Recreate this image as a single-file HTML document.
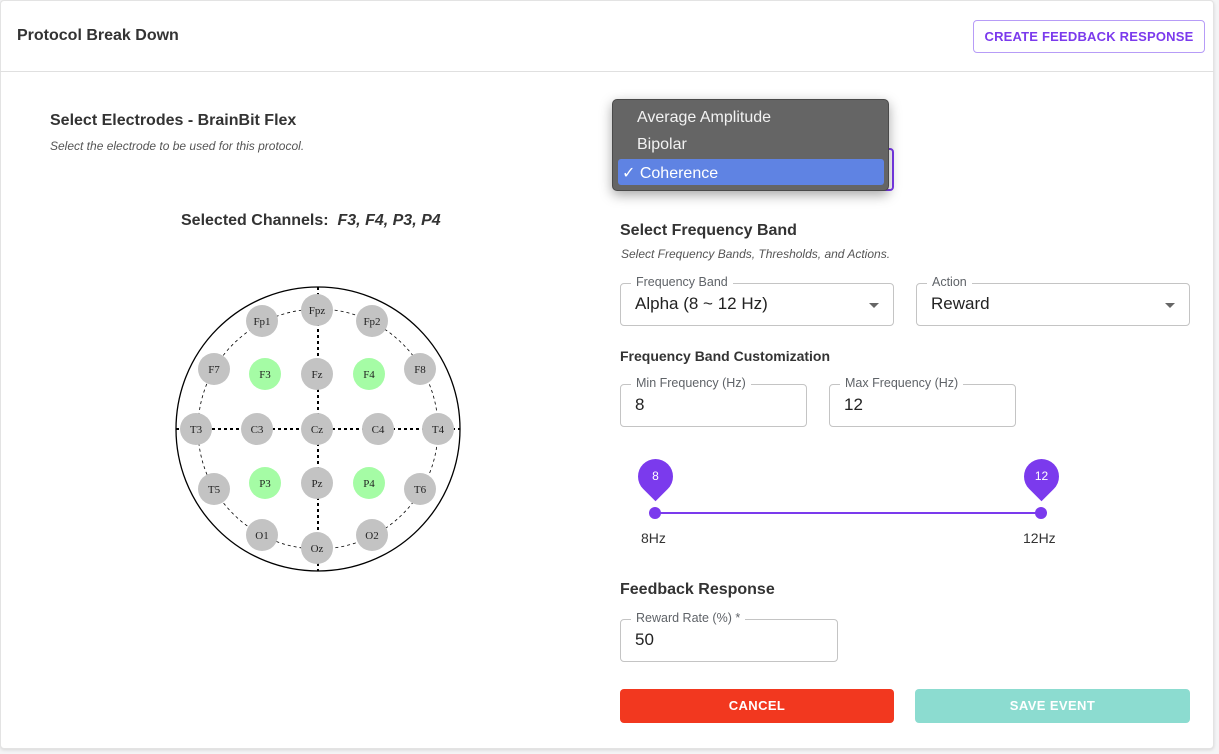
<!DOCTYPE html>
<html><head><meta charset="utf-8">
<style>
*{box-sizing:border-box}
body{margin:0;width:1219px;height:754px;background:#f4f4f5;font-family:"Liberation Sans",sans-serif;color:#2a2a2a;position:relative;overflow:hidden}
.abs{position:absolute}
.card{left:0;top:0;width:1214px;height:749px;background:#fff;border:1px solid #e3e3e3;border-radius:4px;box-shadow:0 1px 3px rgba(0,0,0,.12)}
.field{position:absolute;border:1px solid #c4c4c4;border-radius:4px;background:#fff}
.field .lab{position:absolute;top:-9px;left:10px;background:#fff;padding:0 5px;font-size:12.5px;color:#5f6368}
.field .val{position:absolute;left:14px;top:10px;font-size:17px;color:#222}
.arrow{position:absolute;right:14px;top:19px;width:0;height:0;border-left:5px solid transparent;border-right:5px solid transparent;border-top:5px solid #666}
.h{font-size:16px;font-weight:bold;color:#333}
.sub{font-size:12px;font-style:italic;color:#555}
.btn{position:absolute;border-radius:4px;font-size:13px;font-weight:bold;letter-spacing:.4px;text-align:center;color:#fff}
</style></head><body>
<div class="abs card"></div>
<div class="abs" style="left:17px;top:27px;font-size:16px;font-weight:bold;color:#333">Protocol Break Down</div>
<div class="abs" style="left:973px;top:20px;width:232px;height:33px;border:1px solid #b79cf7;border-radius:4px;color:#7b3aed;font-size:13px;font-weight:bold;letter-spacing:.2px;text-align:center;line-height:31px">CREATE FEEDBACK RESPONSE</div>
<div class="abs" style="left:0;top:71px;width:1214px;height:1px;background:#e0e0e0"></div>

<div class="abs h" style="left:50px;top:112px">Select Electrodes - BrainBit Flex</div>
<div class="abs sub" style="left:50px;top:139px">Select the electrode to be used for this protocol.</div>
<div class="abs" style="left:181px;top:212px;font-size:16px;font-weight:bold;color:#333">Selected Channels:&nbsp; <i>F3, F4, P3, P4</i></div>

<svg class="abs" style="left:0;top:0" width="620" height="754" id="head">
<circle cx="318" cy="429" r="142" fill="none" stroke="#000" stroke-width="1.3"/>
<circle cx="318" cy="429" r="120" fill="none" stroke="#000" stroke-width="0.8" stroke-dasharray="3,3"/>
<line x1="318" y1="287" x2="318" y2="571" stroke="#000" stroke-width="2" stroke-dasharray="3,3"/>
<line x1="176" y1="429" x2="460" y2="429" stroke="#000" stroke-width="2" stroke-dasharray="3,3"/>
<g id="elec"></g>
</svg>

<div class="abs" style="left:621px;top:148px;width:273px;height:43px;border:2px solid #7b3aed;border-radius:4px"></div>
<div class="abs" style="left:612px;top:99px;width:277px;height:92px;background:#656565;border:1px solid #4a4a4a;border-radius:5px;box-shadow:0 4px 12px rgba(0,0,0,.35);font-size:16px;color:#f2f2f2">
<div class="abs" style="left:24px;top:9px">Average Amplitude</div>
<div class="abs" style="left:24px;top:36px">Bipolar</div>
<div class="abs" style="left:5px;top:59px;width:266px;height:26px;background:#5f83e3;border-radius:3px;color:#fff"><span style="position:absolute;left:4px;top:4px">✓ Coherence</span></div>
</div>

<div class="abs h" style="left:620px;top:222px">Select Frequency Band</div>
<div class="abs sub" style="left:621px;top:247px">Select Frequency Bands, Thresholds, and Actions.</div>
<div class="field" style="left:620px;top:283px;width:274px;height:43px"><span class="lab">Frequency Band</span><span class="val">Alpha (8 ~ 12 Hz)</span><span class="arrow"></span></div>
<div class="field" style="left:916px;top:283px;width:274px;height:43px"><span class="lab">Action</span><span class="val">Reward</span><span class="arrow"></span></div>
<div class="abs" style="left:620px;top:348px;font-size:14px;font-weight:bold;color:#333">Frequency Band Customization</div>
<div class="field" style="left:620px;top:384px;width:187px;height:43px"><span class="lab">Min Frequency (Hz)</span><span class="val">8</span></div>
<div class="field" style="left:829px;top:384px;width:187px;height:43px"><span class="lab">Max Frequency (Hz)</span><span class="val">12</span></div>

<div class="abs" style="left:655px;top:512px;width:387px;height:2px;background:#7b3aed"></div>
<div class="abs" style="left:649px;top:507px;width:12px;height:12px;border-radius:50%;background:#7b3aed"></div>
<div class="abs" style="left:1035px;top:507px;width:12px;height:12px;border-radius:50%;background:#7b3aed"></div>
<div class="abs" style="left:638px;top:459px;width:35px;height:35px;border-radius:50% 50% 50% 0;transform:rotate(-45deg);background:#7b3aed"></div>
<div class="abs" style="left:638px;top:469px;width:35px;text-align:center;color:#fff;font-size:12px">8</div>
<div class="abs" style="left:1024px;top:459px;width:35px;height:35px;border-radius:50% 50% 50% 0;transform:rotate(-45deg);background:#7b3aed"></div>
<div class="abs" style="left:1024px;top:469px;width:35px;text-align:center;color:#fff;font-size:12px">12</div>
<div class="abs" style="left:641px;top:530px;font-size:14px;color:#333">8Hz</div>
<div class="abs" style="left:1023px;top:530px;font-size:14px;color:#333">12Hz</div>

<div class="abs h" style="left:620px;top:581px">Feedback Response</div>
<div class="field" style="left:620px;top:619px;width:218px;height:43px"><span class="lab">Reward Rate (%) *</span><span class="val">50</span></div>
<div class="btn" style="left:620px;top:689px;width:274px;height:34px;line-height:34px;background:#f2381f">CANCEL</div>
<div class="btn" style="left:915px;top:689px;width:275px;height:34px;line-height:34px;background:#8cdcd0">SAVE EVENT</div>

<script>
const names=["Fpz","Fp1","Fp2","F7","F3","Fz","F4","F8","T3","C3","Cz","C4","T4","T5","P3","Pz","P4","T6","O1","Oz","O2"];
const xs=[317,262,372,214,265,317,369,420,196,257,317,378,438,214,265,317,369,420,262,317,372];
const ys=[310,321,321,369,374,374,374,369,429,429,429,429,429,489,483,483,483,489,535,548,535];
const selected=["F3","F4","P3","P4"];
const g=document.getElementById('elec');
const NS="http://www.w3.org/2000/svg";
names.forEach((n,i)=>{
  const c=document.createElementNS(NS,'circle');
  
  
  c.setAttribute('cx',xs[i]);c.setAttribute('cy',ys[i]);c.setAttribute('r',16);
  c.setAttribute('fill',selected.includes(n)?'#a5fca5':'#c3c3c3');
  g.appendChild(c);
  const t=document.createElementNS(NS,'text');
  
  
  t.setAttribute('x',xs[i]);t.setAttribute('y',ys[i]+4);
  t.setAttribute('text-anchor','middle');t.setAttribute('font-size','11');
  t.setAttribute('font-family','Liberation Serif, serif');t.setAttribute('fill','#222');
  t.textContent=n;g.appendChild(t);
});
</script>
</body></html>
